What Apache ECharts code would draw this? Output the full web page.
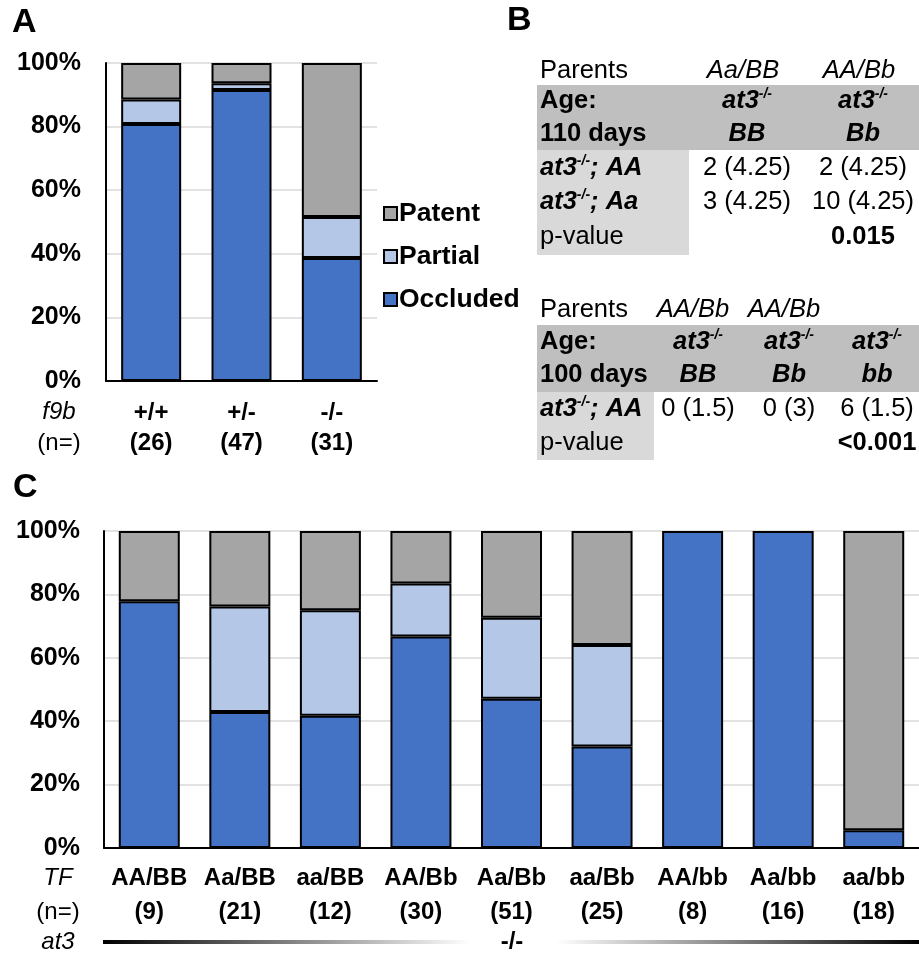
<!DOCTYPE html>
<html>
<head>
<meta charset="utf-8">
<script src="https://cdn.jsdelivr.net/npm/echarts@6/dist/echarts.min.js"></script>
<style>
  html, body { margin: 0; padding: 0; background: #fff; }
  #chart { width: 919px; height: 955px; }
</style>
</head>
<body>
<div id="chart"></div>
<script>
const FONT = '"Liberation Sans", Arial, Helvetica, sans-serif';
const TABLE_SIZE = 25.5;

// ---- Panel A: vessel status by f9b genotype (percent of fish) ----
const genotypesA = ['+/+', '+/-', '-/-'];
const countsA = [26, 47, 31];
const occludedA = [80.8, 91.5, 38.7];
const partialA = [7.7, 2.1, 12.9];
const patentA = [11.5, 6.4, 48.4];

// ---- Panel C: vessel status by TF genotype on at3-/- background ----
const genotypesC = ['AA/BB', 'Aa/BB', 'aa/BB', 'AA/Bb', 'Aa/Bb', 'aa/Bb', 'AA/bb', 'Aa/bb', 'aa/bb'];
const countsC = [9, 21, 12, 30, 51, 25, 8, 16, 18];
const occludedC = [77.8, 42.9, 41.7, 66.7, 47.1, 32.0, 100, 100, 5.6];
const partialC = [0, 33.3, 33.3, 16.7, 25.5, 32.0, 0, 0, 0];
const patentC = [22.2, 23.8, 25.0, 16.6, 27.4, 36.0, 0, 0, 94.4];

// ---- Panel B: genotype counts, observed (expected) ----
const table1Parents = ['Aa/BB', 'AA/Bb'];
const table1Cols = ['BB', 'Bb'];
const table1RowAA = ['2 (4.25)', '2 (4.25)'];
const table1RowAa = ['3 (4.25)', '10 (4.25)'];
const table1P = ['', '0.015'];

const table2Parents = ['AA/Bb', 'AA/Bb', ''];
const table2Cols = ['BB', 'Bb', 'bb'];
const table2RowAA = ['0 (1.5)', '0 (3)', '6 (1.5)'];
const table2P = ['', '', '<0.001'];

const statusNames = ['Occluded', 'Partial', 'Patent'];
const statusColors = ['#4472C4', '#B4C7E7', '#A5A5A5'];

const chart = echarts.init(document.getElementById('chart'), null, { renderer: 'canvas' });

function barSeries(name, color, data, stack, axisIndex) {
  return {
    name: name,
    type: 'bar',
    stack: stack,
    xAxisIndex: axisIndex,
    yAxisIndex: axisIndex,
    barWidth: axisIndex === 0 ? 60 : 61,
    data: data.map(v => (v === 0 ? '-' : v)),
    itemStyle: { color: color, borderColor: '#000', borderWidth: 2 },
    emphasis: { disabled: true }
  };
}

function yAxisFor(gridIndex, margin) {
  return {
    type: 'value', gridIndex: gridIndex, min: 0, max: 100, interval: 20,
    axisLine: { show: true, lineStyle: { color: '#000', width: 2 } },
    axisTick: { show: false },
    axisLabel: { formatter: '{value}%', fontFamily: FONT, fontWeight: 'bold', fontSize: 25, color: '#000', margin: margin },
    splitLine: { lineStyle: { color: '#D9D9D9', width: 1.5 } }
  };
}

function xAxisFor(gridIndex, cats, counts, margin, lh) {
  return {
    type: 'category', gridIndex: gridIndex, data: cats,
    axisLine: { show: true, lineStyle: { color: '#000', width: 2 } },
    axisTick: { show: false },
    axisLabel: {
      interval: 0, margin: margin, fontFamily: FONT, fontWeight: 'bold', fontSize: 24, color: '#000', lineHeight: lh,
      formatter: (v, i) => v + '\n(' + counts[i] + ')'
    }
  };
}

// superscript "-/-" helper for table text
const richTable = {
  bi: { fontFamily: FONT, fontSize: TABLE_SIZE, fontWeight: 'bold', fontStyle: 'italic', fill: '#000', color: '#000', lineHeight: 28 },
  sup: { fontFamily: FONT, fontSize: 14, fontWeight: 'bold', fontStyle: 'italic', fill: '#000', color: '#000', lineHeight: 14, verticalAlign: 'top' }
};

function txt(x, y, text, opts) {
  opts = opts || {};
  const style = {
    text: text,
    fontFamily: FONT,
    fontSize: opts.size || TABLE_SIZE,
    fontWeight: opts.weight || 'normal',
    fontStyle: opts.italic ? 'italic' : 'normal',
    fill: '#000',
    align: opts.align || 'left',
    verticalAlign: 'middle',
    textAlign: opts.align || 'left',
    textVerticalAlign: 'middle'
  };
  if (opts.rich) style.rich = richTable;
  return { type: 'text', x: x, y: y, silent: true, style: style, z: 100 };
}

function rect(x, y, w, h, color) {
  return { type: 'rect', shape: { x: x, y: y, width: w, height: h }, style: { fill: color }, silent: true, z: 10 };
}

const graphics = [];
// panel letters
graphics.push(txt(12, 23, 'A', { size: 34, weight: 'bold' }));
graphics.push(txt(507, 21, 'B', { size: 34, weight: 'bold' }));
graphics.push(txt(13, 488, 'C', { size: 34, weight: 'bold' }));

// Panel A axis row titles
graphics.push(txt(59, 412, 'f9b', { size: 24, italic: true, align: 'center' }));
graphics.push(txt(59, 443, '(n=)', { size: 24, align: 'center' }));

// Panel C axis row titles
graphics.push(txt(58, 878, 'TF', { size: 24, italic: true, align: 'center' }));
graphics.push(txt(58, 912, '(n=)', { size: 24, align: 'center' }));
graphics.push(txt(58, 942, 'at3', { size: 24, italic: true, align: 'center' }));

// at3 -/- bracket line fading towards the centre label
graphics.push({
  type: 'rect', silent: true, shape: { x: 103, y: 940, width: 367, height: 4 },
  style: { fill: { type: 'linear', x: 0, y: 0, x2: 1, y2: 0, colorStops: [{ offset: 0, color: '#000' }, { offset: 1, color: '#fff' }] } }
});
graphics.push({
  type: 'rect', silent: true, shape: { x: 556, y: 940, width: 363, height: 4 },
  style: { fill: { type: 'linear', x: 0, y: 0, x2: 1, y2: 0, colorStops: [{ offset: 0, color: '#fff' }, { offset: 1, color: '#000' }] } }
});
graphics.push(txt(512, 942, '-/-', { size: 24, weight: 'bold', align: 'center' }));

// ---- Table 1 (110 days) ----
const t1c = [747, 863];
graphics.push(rect(537, 85, 382, 65, '#BFBFBF'));
graphics.push(rect(537, 150, 152, 105, '#D9D9D9'));
graphics.push(txt(540, 71, 'Parents'));
table1Parents.forEach((p, i) => graphics.push(txt(t1c[i] - 4, 71, p, { italic: true, align: 'center' })));
graphics.push(txt(540, 101, 'Age:', { weight: 'bold' }));
graphics.push(txt(540, 134, '110 days', { weight: 'bold' }));
table1Cols.forEach((c, i) => {
  graphics.push(txt(t1c[i], 101, '{bi|at3}{sup|-/-}', { rich: true, align: 'center' }));
  graphics.push(txt(t1c[i], 134, c, { weight: 'bold', italic: true, align: 'center' }));
});
graphics.push(txt(540, 168, '{bi|at3}{sup|-/-}{bi|; AA}', { rich: true }));
graphics.push(txt(540, 202, '{bi|at3}{sup|-/-}{bi|; Aa}', { rich: true }));
graphics.push(txt(540, 237, 'p-value'));
table1RowAA.forEach((v, i) => graphics.push(txt(t1c[i], 168, v, { align: 'center' })));
table1RowAa.forEach((v, i) => graphics.push(txt(t1c[i], 202, v, { align: 'center' })));
table1P.forEach((v, i) => { if (v) graphics.push(txt(t1c[i], 237, v, { weight: 'bold', align: 'center' })); });

// ---- Table 2 (100 days) ----
const t2c = [698, 789, 877];
graphics.push(rect(537, 325, 382, 67, '#BFBFBF'));
graphics.push(rect(537, 392, 117, 68, '#D9D9D9'));
graphics.push(txt(540, 310, 'Parents'));
table2Parents.forEach((p, i) => { if (p) graphics.push(txt(t2c[i] - 5, 310, p, { italic: true, align: 'center' })); });
graphics.push(txt(540, 342, 'Age:', { weight: 'bold' }));
graphics.push(txt(540, 375, '100 days', { weight: 'bold' }));
table2Cols.forEach((c, i) => {
  graphics.push(txt(t2c[i], 342, '{bi|at3}{sup|-/-}', { rich: true, align: 'center' }));
  graphics.push(txt(t2c[i], 375, c, { weight: 'bold', italic: true, align: 'center' }));
});
graphics.push(txt(540, 409, '{bi|at3}{sup|-/-}{bi|; AA}', { rich: true }));
graphics.push(txt(540, 443, 'p-value'));
table2RowAA.forEach((v, i) => graphics.push(txt(t2c[i], 409, v, { align: 'center' })));
table2P.forEach((v, i) => { if (v) graphics.push(txt(t2c[i], 443, v, { weight: 'bold', align: 'center' })); });

const option = {
  backgroundColor: '#fff',
  animation: false,
  textStyle: { fontFamily: FONT },
  grid: [
    { left: 106, top: 63, width: 271, height: 318 },
    { left: 104, top: 531, width: 819, height: 317 }
  ],
  legend: {
    left: 378, top: 195, orient: 'vertical',
    itemWidth: 13, itemHeight: 13, itemGap: 16,
    selectedMode: false,
    data: ['Patent', 'Partial', 'Occluded'],
    textStyle: { fontFamily: FONT, fontWeight: 'bold', fontSize: 26.5, color: '#000', padding: [0, 0, 0, -3] },
    icon: 'rect'
  },
  xAxis: [
    xAxisFor(0, genotypesA, countsA, 17, 30),
    xAxisFor(1, genotypesC, countsC, 13, 34)
  ],
  yAxis: [
    yAxisFor(0, 25),
    yAxisFor(1, 24)
  ],
  series: [
    barSeries(statusNames[0], statusColors[0], occludedA, 'A', 0),
    barSeries(statusNames[1], statusColors[1], partialA, 'A', 0),
    barSeries(statusNames[2], statusColors[2], patentA, 'A', 0),
    barSeries(statusNames[0], statusColors[0], occludedC, 'C', 1),
    barSeries(statusNames[1], statusColors[1], partialC, 'C', 1),
    barSeries(statusNames[2], statusColors[2], patentC, 'C', 1)
  ],
  graphic: { elements: graphics }
};

chart.setOption(option);
</script>
</body>
</html>
